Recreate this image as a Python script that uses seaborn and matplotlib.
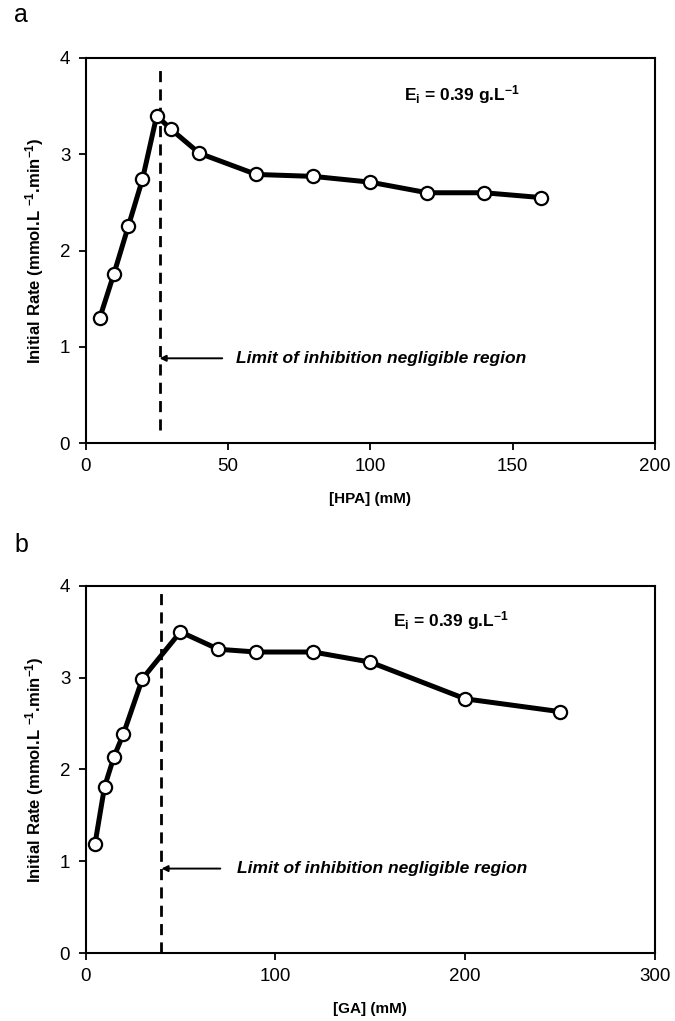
"""Initial rate vs substrate concentration, HPA and GA panels."""
import matplotlib
matplotlib.use("Agg")
import matplotlib.pyplot as plt
import pandas as pd
import seaborn as sns

# Panel a: [HPA] (mM) vs initial rate
hpa_conc = [5, 10, 15, 20, 25, 30, 40, 60, 80, 100, 120, 140, 160]
hpa_rate = [1.30, 1.76, 2.25, 2.74, 3.40, 3.26, 3.01, 2.79, 2.77, 2.71, 2.60, 2.60, 2.55]
hpa_limit = 26

# Panel b: [GA] (mM) vs initial rate
ga_conc = [5, 10, 15, 20, 30, 50, 70, 90, 120, 150, 200, 250]
ga_rate = [1.19, 1.81, 2.14, 2.39, 2.99, 3.50, 3.31, 3.28, 3.28, 3.17, 2.77, 2.63]
ga_limit = 40

sns.set_style("ticks")
plt.rcParams["font.family"] = ["Liberation Sans", "DejaVu Sans"]
plt.rcParams["mathtext.fontset"] = "custom"
plt.rcParams["mathtext.rm"] = "Liberation Sans:bold"
plt.rcParams["mathtext.it"] = "Liberation Sans:bold"
plt.rcParams["mathtext.bf"] = "Liberation Sans:bold"
for key in ["text.color", "axes.labelcolor", "xtick.color", "ytick.color"]:
    plt.rcParams[key] = "black"

fig = plt.figure(figsize=(6.75, 10.21), dpi=100)
ax_a = fig.add_axes([0.1267, 0.5661, 0.8437, 0.3771])
ax_b = fig.add_axes([0.1267, 0.0666, 0.8437, 0.3595])

ylabel = "Initial Rate (mmol.L $^{\\mathrm{-1}}$.min$^{\\mathrm{-1}}$)"
ei_text = "E$_{\\rm i}$ = 0.39 g.L$^{\\mathrm{-1}}$"
note = "Limit of inhibition negligible region"

panels = [
    (ax_a, hpa_conc, hpa_rate, hpa_limit, (0, 200), [0, 50, 100, 150, 200],
     "[HPA] (mM)", "a", (0.13, 3.9), (48, 0.88), (53, 0.88), (112, 3.62)),
    (ax_b, ga_conc, ga_rate, ga_limit, (0, 300), [0, 100, 200, 300],
     "[GA] (mM)", "b", (0.0, 4.0), (71, 0.92), (80, 0.92), (162, 3.62)),
]

for (ax, conc, rate, limit, xlim, xticks, xlabel, letter,
     vspan, arrow_tail, note_pos, ei_pos) in panels:
    df = pd.DataFrame({"conc": conc, "rate": rate})
    sns.lineplot(data=df, x="conc", y="rate", ax=ax, color="black",
                 linewidth=3.6, marker="o", markersize=9.5,
                 markerfacecolor="white", markeredgecolor="black",
                 markeredgewidth=1.6, zorder=3)

    # dashed limit line
    ax.vlines(limit, vspan[0], vspan[1], colors="black",
              linestyles=(0, (4, 2.6)), linewidth=2, zorder=2)

    # arrow pointing at the limit line
    ax.annotate("", xy=(limit, arrow_tail[1]), xytext=arrow_tail,
                arrowprops=dict(arrowstyle="-|>", color="black", lw=1.4,
                                mutation_scale=9, shrinkA=0, shrinkB=0))
    ax.text(note_pos[0], note_pos[1], note, fontsize=12.5,
            fontweight="bold", fontstyle="italic", va="center", ha="left")
    ax.text(ei_pos[0], ei_pos[1], ei_text, fontsize=12.5,
            fontweight="bold", va="center", ha="left")

    ax.set_xlim(*xlim)
    ax.set_ylim(0, 4)
    ax.set_xticks(xticks)
    ax.set_yticks([0, 1, 2, 3, 4])
    ax.tick_params(axis="both", labelsize=13.5, length=5, width=1.3,
                   direction="out", pad=6, colors="black")
    for side in ["left", "right", "top", "bottom"]:
        ax.spines[side].set_visible(True)
        ax.spines[side].set_linewidth(1.5)
        ax.spines[side].set_color("black")
    ax.set_xlabel(xlabel, fontsize=11, fontweight="bold", labelpad=12)
    ax.set_ylabel(ylabel, fontsize=12, fontweight="bold", labelpad=10)
    ax.text(-0.125, 1.08, letter, transform=ax.transAxes, fontsize=18,
            va="bottom", ha="left")

fig.savefig("out.png", dpi=100, facecolor="white")
plt.close(fig)
